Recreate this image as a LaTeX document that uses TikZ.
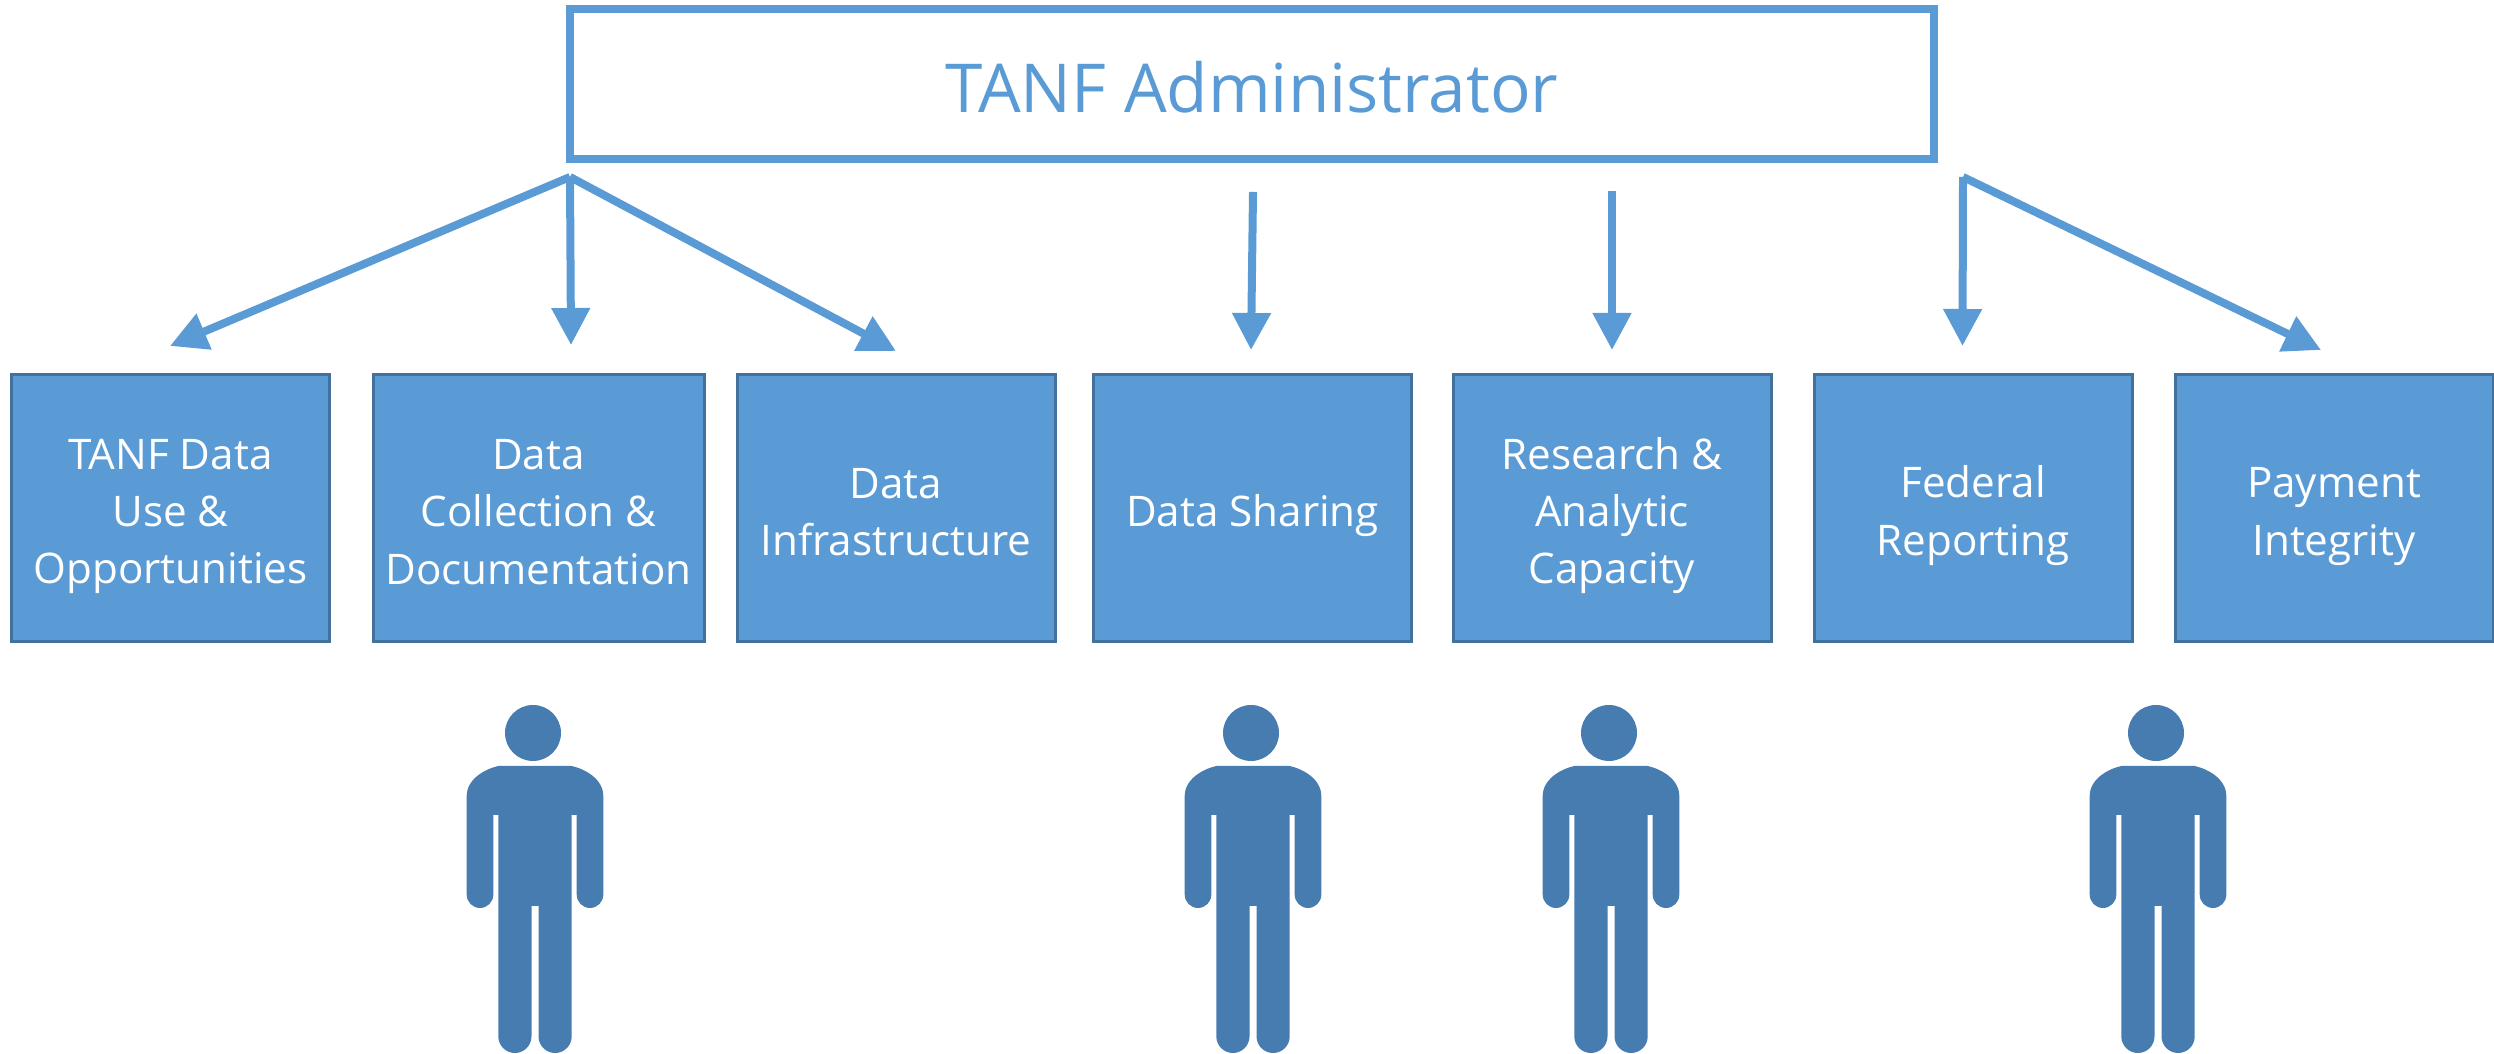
\documentclass[tikz,border=0pt]{standalone}
\usepackage{fontspec}
\setmainfont{Open Sans}
\usetikzlibrary{arrows.meta}
\definecolor{boxblue}{HTML}{5B9BD5}
\definecolor{boxedge}{HTML}{41719C}
\definecolor{personblue}{HTML}{477CB0}
\newcommand{\toppad}[1][0.46cm]{\rule{0pt}{#1}}
\tikzset{
  person/.pic={
    \fill[personblue] (-0.02,3.21) circle (0.28);
    \fill[personblue] (-0.367,2.88) -- (0.367,2.88)
      .. controls (0.5,2.85) and (0.683,2.75) .. (0.683,2.58)
      -- (0.683,1.593) arc (0:-180:0.133)
      -- (0.417,2.39) -- (0.367,2.39)
      -- (0.367,0.176) arc (0:-180:0.166)
      -- (0.035,1.48) -- (-0.035,1.48)
      -- (-0.035,0.176) arc (0:-180:0.166)
      -- (-0.367,2.39) -- (-0.417,2.39)
      -- (-0.417,1.593) arc (0:-180:0.133)
      -- (-0.683,2.58)
      .. controls (-0.683,2.75) and (-0.5,2.85) .. cycle;
  }
}
\begin{document}
\begin{tikzpicture}
  \tikzstyle{admin}=[draw=boxblue,fill=white,line width=0.08cm,text=boxblue,minimum width=13.635cm,minimum height=1.50cm,inner sep=0pt,font=\fontsize{19.2}{24}\selectfont,execute at begin node=\rule{0pt}{0.57cm}]
  \tikzstyle{topic}=[draw=boxedge,fill=boxblue,line width=0.03cm,text=white,minimum width=3.18cm,minimum height=2.67cm,inner sep=0pt,align=center,font=\fontsize{12}{16.3}\selectfont]
  \tikzstyle{line}=[draw=boxblue,line width=0.08cm,-{Triangle[length=0.37cm,width=0.37cm]}]
  \useasboundingbox (0,0) rectangle (24.94,10.54);
  % boxes
  \node[admin] (admin) at (12.52,9.70) {TANF Administrator};
  \node[topic] (use) at (1.705,5.455) {\toppad TANF Data\\Use \&\\Opportunities};
  \node[topic,minimum width=3.31cm] (collection) at (5.385,5.455) {\toppad[0.37cm]Data\\Collection \&\\Documentation};
  \node[topic] (infra) at (8.96,5.455) {\toppad[0.37cm]Data\\Infrastructure};
  \node[topic] (sharing) at (12.525,5.455) {\toppad Data Sharing};
  \node[topic] (research) at (16.12,5.455) {\toppad Research \&\\Analytic\\Capacity};
  \node[topic] (federal) at (19.73,5.455) {\toppad Federal\\Reporting};
  \node[topic] (payment) at (23.34,5.455) {\toppad Payment\\Integrity};
  % arrow ends
  \coordinate (forkleft) at (5.70,8.77);
  \coordinate (forkright) at (19.63,8.77);
  \coordinate (sharingstart) at (12.53,8.62);
  \coordinate (researchstart) at (16.12,8.63);
  \coordinate (usetip) at (1.70,7.08);
  \coordinate (collectiontip) at (5.71,7.09);
  \coordinate (infratip) at (8.96,7.03);
  \coordinate (sharingtip) at (12.51,7.04);
  \coordinate (researchtip) at (16.12,7.04);
  \coordinate (federaltip) at (19.625,7.08);
  \coordinate (paymenttip) at (23.21,7.04);
  \draw[line] (forkleft) -- (usetip);
  \draw[line] (forkleft) -- (collectiontip);
  \draw[line] (forkleft) -- (infratip);
  \draw[line] (sharingstart) -- (sharingtip);
  \draw[line] (researchstart) -- (researchtip);
  \draw[line] (forkright) -- (federaltip);
  \draw[line] (forkright) -- (paymenttip);
  % people
  \pic (person1) at (5.35,0) {person};
  \pic (person2) at (12.53,0) {person};
  \pic (person3) at (16.11,0) {person};
  \pic (person4) at (21.58,0) {person};
\end{tikzpicture}
\end{document}
